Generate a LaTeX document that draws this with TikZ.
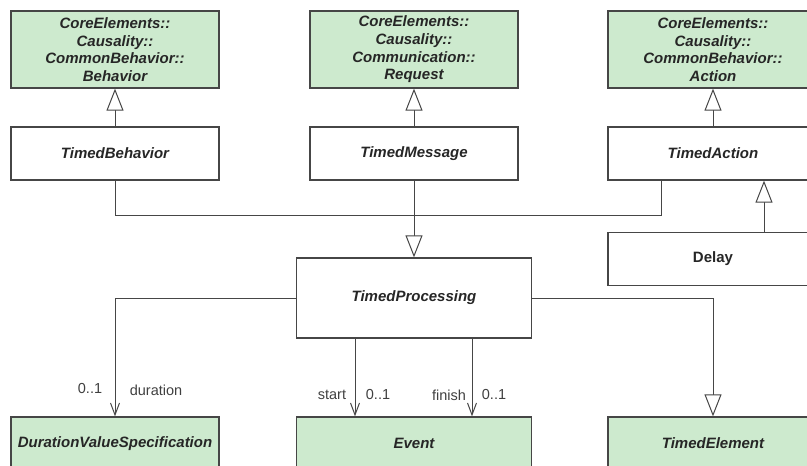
\documentclass[tikz,border=0pt]{standalone}
\usepackage{fontspec}
\setmainfont{Liberation Sans}
\usetikzlibrary{arrows.meta}
\definecolor{umlgreen}{RGB}{205,234,206}
\definecolor{umlline}{RGB}{70,70,70}
\begin{document}
\begin{tikzpicture}[x=1pt,y=-1pt,
  cls/.style={draw=umlline,line width=1.3pt,minimum width=208pt,minimum height=53pt,inner sep=0pt,align=center,
    font=\fontsize{15}{17.6}\selectfont\bfseries\itshape,text=black!85},
  core/.style={cls,fill=umlgreen,minimum height=77pt},
  refcls/.style={cls,fill=umlgreen},
  gen/.style={draw=umlline,line width=1pt,-{Triangle[open,length=22pt,width=17pt,fill=white]}},
  nav/.style={draw=umlline,line width=1pt,-{Straight Barb[length=12pt,width=9pt]}},
  lbl/.style={font=\fontsize{14.5}{16}\selectfont,text=black!75,inner sep=0pt}]
\useasboundingbox (0,0) rectangle (807,466);
\clip (0,0) rectangle (807,466);
% top row
\node[core] (behavior) at (115,49.5) {CoreElements::\\Causality::\\CommonBehavior::\\Behavior};
\node[core] (request) at (414,49.5) {CoreElements::\\Causality::\\Communication::\\Request};
\node[core,minimum width=210pt] (action) at (713,49.5) {CoreElements::\\Causality::\\CommonBehavior::\\Action};
\node[cls] (tbehavior) at (115,153.5) {TimedBehavior};
\node[cls] (tmessage) at (414,153.5) {TimedMessage};
\node[cls,minimum width=210pt] (taction) at (713,153.5) {TimedAction};
\node[cls,minimum width=210pt,font=\fontsize{15}{17.6}\selectfont\bfseries] (delay) at (713,259) {Delay};
% middle and bottom
\node[cls,minimum width=235pt,minimum height=80pt] (tproc) at (414,298) {TimedProcessing};
\node[refcls] (dvs) at (115,443.5) {DurationValueSpecification};
\node[refcls,minimum width=235pt] (event) at (414,443.5) {Event};
\node[refcls,minimum width=210pt] (telem) at (713,443.5) {TimedElement};
\coordinate (join) at (414,215.5);
\coordinate (tajoin) at (661,0);
\coordinate (dlx) at (764,0);
\coordinate (stx) at (355,0);
\coordinate (fix) at (472,0);
\draw[gen] (tbehavior.north) -- (behavior.south);
\draw[gen] (tmessage.north) -- (request.south);
\draw[gen] (taction.north) -- (action.south);
\draw[gen] (delay.north -| dlx) -- (taction.south -| dlx);
\draw[umlline,line width=1pt] (tbehavior.south) |- (join) -| (taction.south -| tajoin);
\draw[gen] (tmessage.south) -- (tproc.north);
\draw[nav] (tproc.west) -| (dvs.north);
\draw[nav] (tproc.south -| stx) -- (event.north -| stx);
\draw[nav] (tproc.south -| fix) -- (event.north -| fix);
\draw[gen] (tproc.east) -| (telem.north);
% association ends
\node[lbl] (dmult) at (90,389) {0..1};
\node[lbl] (dname) at (156,390) {duration};
\node[lbl] (sname) at (332,395) {start};
\node[lbl] (smult) at (378,395) {0..1};
\node[lbl] (fname) at (449,395) {finish};
\node[lbl] (fmult) at (494,395) {0..1};
\end{tikzpicture}
\end{document}
